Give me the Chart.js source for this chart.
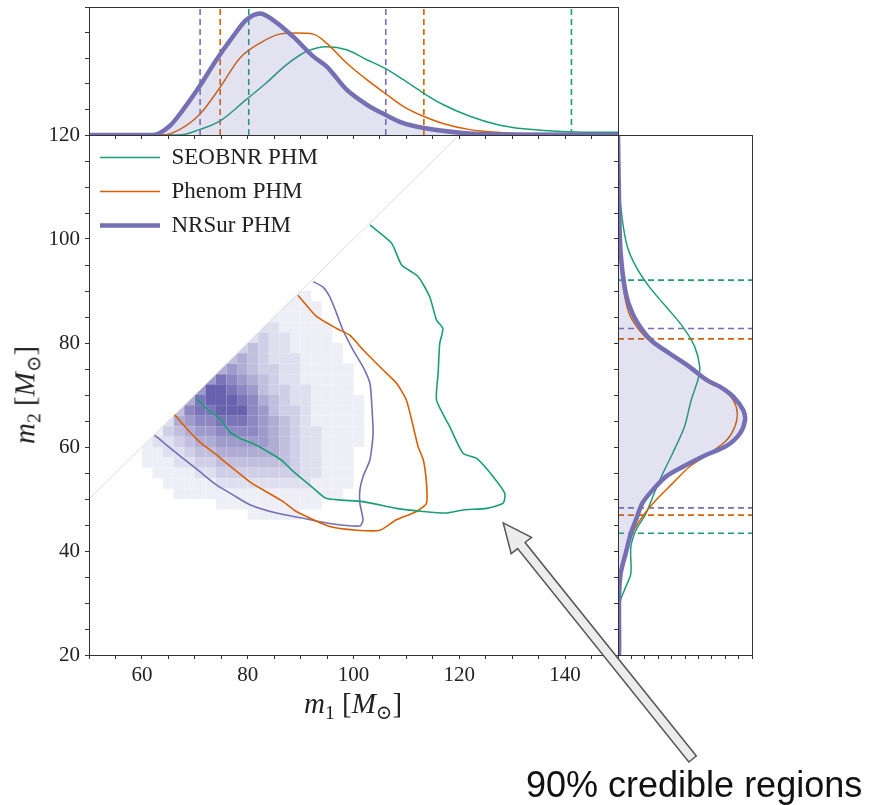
<!DOCTYPE html>
<html>
<head>
<meta charset="utf-8">
<script src="https://cdn.jsdelivr.net/npm/chart.js@4.4.1/dist/chart.umd.min.js"></script>
<style>
  body { margin: 0; background: #fff; }
  #wrap { position: relative; width: 877px; height: 805px; overflow: hidden; }
  canvas { position: absolute; left: 0; top: 0; width: 877px; height: 805px; }
  .axt { position: absolute; font-family: 'Liberation Serif', 'DejaVu Serif', serif; font-size: 29px; color: #222; white-space: nowrap; line-height: 1; }
  .axt sub { font-size: 0.68em; vertical-align: -0.28em; font-style: normal; }
  #xt { left: 353px; top: 706px; transform: translate(-50%, -50%); }
  #yt { left: 27px; top: 395px; transform: translate(-50%, -50%) rotate(-90deg); }
  #note { position: absolute; left: 526px; top: 767px; font-family: 'Liberation Sans', Arial, sans-serif; font-size: 36px; line-height: 36px; color: #111; white-space: nowrap; }
</style>
</head>
<body>
<div id="wrap">
  <canvas id="top" width="877" height="805"></canvas>
  <canvas id="side" width="877" height="805"></canvas>
  <canvas id="main" width="877" height="805"></canvas>
  <div class="axt" id="xt"><i>m</i><sub>1</sub> [<i>M</i><sub>⊙</sub>]</div>
  <div class="axt" id="yt"><i>m</i><sub>2</sub> [<i>M</i><sub>⊙</sub>]</div>
  <div id="note">90% credible regions</div>
</div>
<script>
// --- models ---
const models = ['SEOBNR PHM', 'Phenom PHM', 'NRSur PHM'];

// --- m1 marginal (density x 1e-3) ---
const seobnrM1x = [50, 67.1, 70.9, 74.7, 79.7, 83.5, 87.3, 91.1, 94.9, 98.7, 102.5, 105.9, 109.4, 113.2, 116.9, 122.0, 127.1, 132.1, 138.4, 144.7, 150];
const seobnrM1p = [0, 0, 2.1, 5.4, 13.8, 20.3, 27.4, 32.6, 34.5, 33.3, 29.4, 26.1, 21.6, 16.4, 11.9, 7.3, 4.1, 2.4, 1.5, 1.1, 1.1];
const phenomM1x = [50, 63.9, 67.1, 70.9, 74.7, 78.5, 82.3, 86.1, 89.2, 92.4, 94.9, 98.7, 102.5, 105.9, 109.4, 113.2, 116.9, 122.0, 128.2, 134.6, 150];
const phenomM1p = [0, 0, 2.1, 8.0, 18.4, 30.0, 35.9, 39.4, 39.8, 39.4, 35.9, 28.1, 21.6, 16.4, 11.2, 7.3, 4.5, 2.1, 0.9, 0.2, 0.1];
const nrsurM1x = [50, 62.1, 65.2, 67.8, 70.9, 74.1, 77.2, 79.7, 82.3, 84.8, 88.6, 92.4, 94.9, 98.7, 102.5, 105.9, 109.3, 113.1, 120.1, 128.2, 150];
const nrsurM1p = [0, 0, 3.4, 9.9, 19.0, 29.4, 38.4, 44.9, 47.5, 44.9, 38.4, 30.7, 26.8, 17.7, 11.9, 8.0, 4.7, 2.8, 0.9, 0.2, 0.1];

// --- m2 marginal (density x 1e-3) ---
const seobnrM2y = [20, 28.0, 30.6, 33.1, 35.7, 40.8, 44.0, 47.2, 51.1, 54.9, 58.8, 63.9, 69.0, 72.9, 75.4, 79.3, 83.1, 87.0, 90.8, 94.7, 98.5, 103.7, 110.1, 117, 120];
const seobnrM2p = [0, 0.4, 1.0, 2.9, 4.8, 4.8, 6.7, 10.4, 13.5, 16.7, 20.4, 24.8, 27.3, 29.8, 30.5, 28.6, 24.2, 17.9, 11.7, 6.7, 3.5, 1.6, 0.4, 0.1, 0];
const phenomM2y = [20, 31.9, 35.7, 39.6, 43.4, 46.6, 49.8, 53.0, 56.2, 58.8, 61.3, 63.9, 66.5, 69.0, 71.0, 72.3, 74.8, 77.4, 79.9, 82.5, 85.7, 92.1, 100.4, 111.3, 120];
const phenomM2p = [0, 0.4, 1.0, 2.9, 5.4, 9.1, 14.2, 20.4, 26.7, 34.2, 40.5, 43.6, 44.5, 43.0, 39.2, 34.2, 27.9, 20.4, 12.9, 7.9, 4.1, 1.6, 0.6, 0.2, 0];
const nrsurM2y = [20, 20.3, 31.2, 35.7, 39.6, 43.4, 46.0, 49.2, 51.7, 54.3, 56.2, 58.5, 60.2, 62.6, 65.2, 67.1, 69.7, 71.6, 72.9, 75.4, 78.0, 80.3, 82.5, 85.7, 89.6, 97.3, 106.9, 120];
const nrsurM2p = [0, 0.4, 0.4, 1.0, 2.9, 4.8, 6.7, 9.1, 12.9, 17.9, 24.2, 33.0, 40.5, 45.5, 47.4, 46.7, 43.0, 38.0, 33.0, 26.7, 19.2, 12.9, 9.1, 5.4, 2.9, 1.0, 0.4, 0];

// --- 90% intervals ---
const seobnrM1Bounds = [80.2, 141.2];
const phenomM1Bounds = [74.8, 113.3];
const nrsurM1Bounds = [71.0, 106.1];
const seobnrM2Bounds = [43.4, 92.1];
const phenomM2Bounds = [46.9, 80.8];
const nrsurM2Bounds = [48.3, 82.8];

// --- 90% contours in (m1, m2) ---
const seobnrContM1 = [70.3, 72.2, 74.7, 76.6, 78.5, 81.6, 84.8, 86.7, 88.6, 92.4, 94.9, 101.8, 108.1, 113.2, 117.6, 120.7, 125.2, 128.3, 128.6, 126.4, 123.3, 120.7, 118.2, 115.7, 116.0, 116.3, 116.9, 115.7, 114.4, 112.2, 109.1, 107.2, 103.1];
const seobnrContM2 = [69.4, 67.4, 65.5, 62.9, 61.7, 60.4, 58.5, 57.2, 55.3, 52.1, 50.1, 49.5, 48.2, 47.6, 47.3, 47.9, 48.2, 49.2, 51.1, 54.3, 57.8, 58.8, 63.9, 69.0, 74.2, 79.9, 82.8, 84.4, 88.9, 92.8, 95.0, 99.2, 102.7];
const phenomContM1 = [66.2, 68.4, 70.9, 74.1, 77.2, 80.4, 83.5, 86.7, 89.2, 95.5, 100.6, 105.0, 108.1, 111.9, 113.8, 113.8, 113.2, 112.2, 111.3, 110.0, 108.1, 105.6, 101.8, 99.3, 96.8, 93.0, 89.5];
const phenomContM2 = [66.2, 63.6, 61.0, 58.5, 55.9, 53.3, 51.4, 49.5, 47.6, 44.7, 44.0, 44.0, 46.0, 47.6, 49.2, 53.0, 57.5, 60.1, 63.9, 69.0, 72.3, 74.8, 78.7, 81.5, 82.8, 85.1, 89.2];
const nrsurContM1 = [62.4, 64.6, 67.8, 70.9, 74.1, 77.2, 80.4, 85.4, 90.5, 95.5, 101.2, 101.8, 101.2, 101.2, 101.8, 103.1, 103.7, 103.4, 103.1, 101.8, 99.9, 98.0, 96.8, 95.5, 94.2, 92.4];
const nrsurContM2 = [62.3, 60.4, 57.8, 55.3, 52.7, 50.8, 48.9, 47.3, 46.3, 45.3, 44.8, 46.0, 49.2, 51.7, 54.3, 57.5, 62.6, 69.0, 72.3, 75.4, 78.7, 82.5, 85.7, 88.9, 90.8, 91.8];

// --- NRSur 2D histogram (levels 0-9), 2 Msun bins ---
const binM1 = [57, 59, 61, 63, 65, 67, 69, 71, 73, 75, 77, 79, 81, 83, 85, 87, 89, 91, 93, 95, 97, 99, 101, 103, 105, 107, 109];
const binM2 = [89, 87, 85, 83, 81, 79, 77, 75, 73, 71, 69, 67, 65, 63, 61, 59, 57, 55, 53, 51, 49, 47];
const histRows = [
  '................11.........',
  '...............1111........',
  '..............11111........',
  '.............2211111.......',
  '............23221111.......',
  '...........3432211111......',
  '..........45432221111......',
  '.........5654332211111.....',
  '........68765432211111.....',
  '.......699876433221111.....',
  '......58999875432211111....',
  '.....478899976433211111....',
  '....2567788876543211111....',
  '...13456677776543221111....',
  '..122345566666543221111....',
  '..11223445555554322111.....',
  '..11122334444444322111.....',
  '...1111223333333322111.....',
  '....111112222222221111.....',
  '.....1111111111111111......',
  '.........1111111111........',
  '............11111..........'
];

// annotation arrow, in (m1, m2) units
const arrowTip = [128.3, 45.4];
const arrowTail = [164.1, 0];

// ---------- style ----------
const colors = { 'SEOBNR PHM': '#1b9e77', 'Phenom PHM': '#d95f02', 'NRSur PHM': '#7570b3' };
const margWidth = { 'SEOBNR PHM': 1.5, 'Phenom PHM': 1.5, 'NRSur PHM': 4.5 };
const fillColor = 'rgba(117,112,179,0.2)';
const axisColor = '#333';
const serif = "'Liberation Serif', 'DejaVu Serif', serif";

Chart.defaults.font.family = serif;
Chart.defaults.color = '#222';

const zip = (a, b) => a.map((v, i) => ({ x: v, y: b[i] }));

function levelColor(v) {
  const t = Math.pow(v / 9, 1.15);
  const r = Math.round(250 - (250 - 104) * t);
  const g = Math.round(250 - (250 - 98) * t);
  const b = Math.round(253 - (253 - 174) * t);
  return `rgb(${r},${g},${b})`;
}

const frame = {
  id: 'frame',
  afterDatasetsDraw(chart) {
    const a = chart.chartArea, ctx = chart.ctx;
    ctx.save();
    ctx.strokeStyle = axisColor;
    ctx.lineWidth = 1;
    ctx.strokeRect(a.left + 0.5, a.top + 0.5, a.right - a.left, a.bottom - a.top);
    ctx.restore();
  }
};

// the histogram only lives where m1 >= m2
const diagClip = {
  id: 'diagClip',
  beforeDatasetDraw(chart, args) {
    if (chart.data.datasets[args.index].label !== 'hist') return;
    const { x, y } = chart.scales, ctx = chart.ctx;
    ctx.save();
    ctx.beginPath();
    [[50, 50], [120, 120], [150, 120], [150, 20], [50, 20]].forEach(([a, b], i) => {
      const px = x.getPixelForValue(a), py = y.getPixelForValue(b);
      if (i) ctx.lineTo(px, py); else ctx.moveTo(px, py);
    });
    ctx.closePath();
    ctx.clip();
  },
  afterDatasetDraw(chart, args) {
    if (chart.data.datasets[args.index].label === 'hist') chart.ctx.restore();
  }
};

const arrow = {
  id: 'arrow',
  afterDraw(chart) {
    const { x, y } = chart.scales;
    const px = x.getPixelForValue(arrowTip[0]), py = y.getPixelForValue(arrowTip[1]);
    const sx = x.getPixelForValue(arrowTail[0]), sy = y.getPixelForValue(arrowTail[1]);
    const len = Math.hypot(px - sx, py - sy);
    const ux = (px - sx) / len, uy = (py - sy) / len;
    const nx = -uy, ny = ux;
    const shaft = 4.8, head = 13, headLen = 29;
    const bx = px - ux * headLen, by = py - uy * headLen;
    const ctx = chart.ctx;
    ctx.save();
    ctx.beginPath();
    ctx.moveTo(sx + nx * shaft, sy + ny * shaft);
    ctx.lineTo(bx + nx * shaft, by + ny * shaft);
    ctx.lineTo(bx + nx * head, by + ny * head);
    ctx.lineTo(px, py);
    ctx.lineTo(bx - nx * head, by - ny * head);
    ctx.lineTo(bx - nx * shaft, by - ny * shaft);
    ctx.lineTo(sx - nx * shaft, sy - ny * shaft);
    ctx.closePath();
    ctx.fillStyle = '#ececec';
    ctx.fill();
    ctx.strokeStyle = '#555';
    ctx.lineWidth = 1.5;
    ctx.lineJoin = 'miter';
    ctx.stroke();
    ctx.restore();
  }
};

function axis(min, max, step, opts = {}) {
  return Object.assign({
    type: 'linear', min, max,
    ticks: { stepSize: step, autoSkip: false, maxRotation: 0, display: false },
    grid: { drawOnChartArea: false, tickLength: 4, color: axisColor },
    border: { color: axisColor }
  }, opts);
}

const baseOpts = {
  responsive: false, animation: false, devicePixelRatio: 1, events: [],
  plugins: { legend: { display: false }, tooltip: { enabled: false } }
};

function curve(name, pts, extra = {}) {
  return Object.assign({
    data: pts, showLine: true, pointRadius: 0,
    borderColor: colors[name], borderWidth: margWidth[name],
    cubicInterpolationMode: 'monotone', fill: false
  }, extra);
}

function dashed(name, pts) {
  return { data: pts, showLine: true, pointRadius: 0, borderColor: colors[name], borderWidth: 1.6, borderDash: [6, 4], fill: false };
}

// ---------- top marginal: m1 ----------
const m1Bounds = [seobnrM1Bounds, phenomM1Bounds, nrsurM1Bounds];
const topSets = [
  curve('NRSur PHM', zip(nrsurM1x, nrsurM1p), { fill: 'origin', backgroundColor: fillColor }),
  curve('Phenom PHM', zip(phenomM1x, phenomM1p)),
  curve('SEOBNR PHM', zip(seobnrM1x, seobnrM1p))
];
models.forEach((m, i) => m1Bounds[i].forEach(q => topSets.push(dashed(m, [{ x: q, y: 0 }, { x: q, y: 50 }]))));

new Chart(document.getElementById('top'), {
  type: 'scatter',
  data: { datasets: topSets },
  options: Object.assign({}, baseOpts, {
    layout: { padding: { left: 0, top: 7, right: 259, bottom: 0 } },
    scales: {
      x: axis(50, 150, 5, { afterFit: s => { s.height = 670; } }),
      y: axis(0, 50, 10, { afterFit: s => { s.width = 89; } })
    }
  }),
  plugins: [frame]
});

// ---------- right marginal: m2 ----------
const m2Bounds = [seobnrM2Bounds, phenomM2Bounds, nrsurM2Bounds];
const sideSets = [
  curve('NRSur PHM', zip(nrsurM2p, nrsurM2y), { fill: 'shape', backgroundColor: fillColor, cubicInterpolationMode: 'default', tension: 0.3 }),
  curve('Phenom PHM', zip(phenomM2p, phenomM2y), { cubicInterpolationMode: 'default', tension: 0.3 }),
  curve('SEOBNR PHM', zip(seobnrM2p, seobnrM2y), { cubicInterpolationMode: 'default', tension: 0.3 })
];
models.forEach((m, i) => m2Bounds[i].forEach(q => sideSets.push(dashed(m, [{ x: 0, y: q }, { x: 50, y: q }]))));

new Chart(document.getElementById('side'), {
  type: 'scatter',
  data: { datasets: sideSets },
  options: Object.assign({}, baseOpts, {
    layout: { padding: { left: 0, top: 135, right: 125, bottom: 0 } },
    scales: {
      x: axis(0, 50, 5, { afterFit: s => { s.height = 150; } }),
      y: axis(20, 120, 5, { afterFit: s => { s.width = 618; } })
    }
  }),
  plugins: [frame]
});

// ---------- main joint panel ----------
const cells = [];
histRows.forEach((row, r) => {
  binM1.forEach((m1, c) => {
    const v = Number(row[c]);
    if (v > 0) cells.push({ x: m1, y: binM2[r], v });
  });
});

const contours = [
  ['SEOBNR PHM', seobnrContM1, seobnrContM2],
  ['Phenom PHM', phenomContM1, phenomContM2],
  ['NRSur PHM', nrsurContM1, nrsurContM2]
];

const mainSets = contours.map(([name, a, b], i) => ({
  label: name, data: zip(a, b), showLine: true, pointRadius: 0,
  borderColor: colors[name], borderWidth: 1.6, tension: 0.2, order: i
}));
mainSets.push({
  label: 'm1 = m2', data: [{ x: 50, y: 50 }, { x: 120, y: 120 }], showLine: true,
  pointRadius: 0, borderColor: '#dddddd', borderWidth: 1, order: 3
});
mainSets.push({
  label: 'hist', data: cells, pointStyle: 'rect', pointRadius: 7.45, pointBorderWidth: 0,
  pointBackgroundColor: c => levelColor(c.raw ? c.raw.v : 0), order: 4
});

const tickFont = { family: serif, size: 21 };

new Chart(document.getElementById('main'), {
  type: 'scatter',
  data: { datasets: mainSets },
  options: Object.assign({}, baseOpts, {
    layout: { padding: { left: 0, top: 135, right: 259, bottom: 0 } },
    scales: {
      x: axis(50, 150, 5, {
        afterFit: s => { s.height = 150; },
        ticks: { stepSize: 5, autoSkip: false, maxRotation: 0, padding: 4, font: tickFont, color: '#222',
          callback: v => (v % 20 === 0 ? String(v) : '') }
      }),
      y: axis(20, 120, 5, {
        afterFit: s => { s.width = 89; },
        ticks: { stepSize: 5, autoSkip: false, padding: 5, font: tickFont, color: '#222',
          callback: v => (v % 20 === 0 ? String(v) : '') }
      })
    },
    plugins: {
      tooltip: { enabled: false },
      legend: {
        display: true, position: 'chartArea', align: 'start',
        // a vertical chartArea legend is laid out from the canvas top; the empty title pushes it into the panel
        title: { display: true, text: ' ', font: { size: 10, lineHeight: 1 }, padding: { top: 125, bottom: 0 } },
        labels: {
          usePointStyle: true, pointStyleWidth: 60, padding: 11, color: '#222',
          font: { family: serif, size: 23 },
          generateLabels: () => models.map(m => ({
            text: m, strokeStyle: colors[m], fillStyle: colors[m], lineWidth: margWidth[m],
            pointStyle: 'line', hidden: false, lineCap: 'butt'
          }))
        }
      }
    }
  }),
  plugins: [frame, diagClip, arrow]
});
</script>
</body>
</html>
